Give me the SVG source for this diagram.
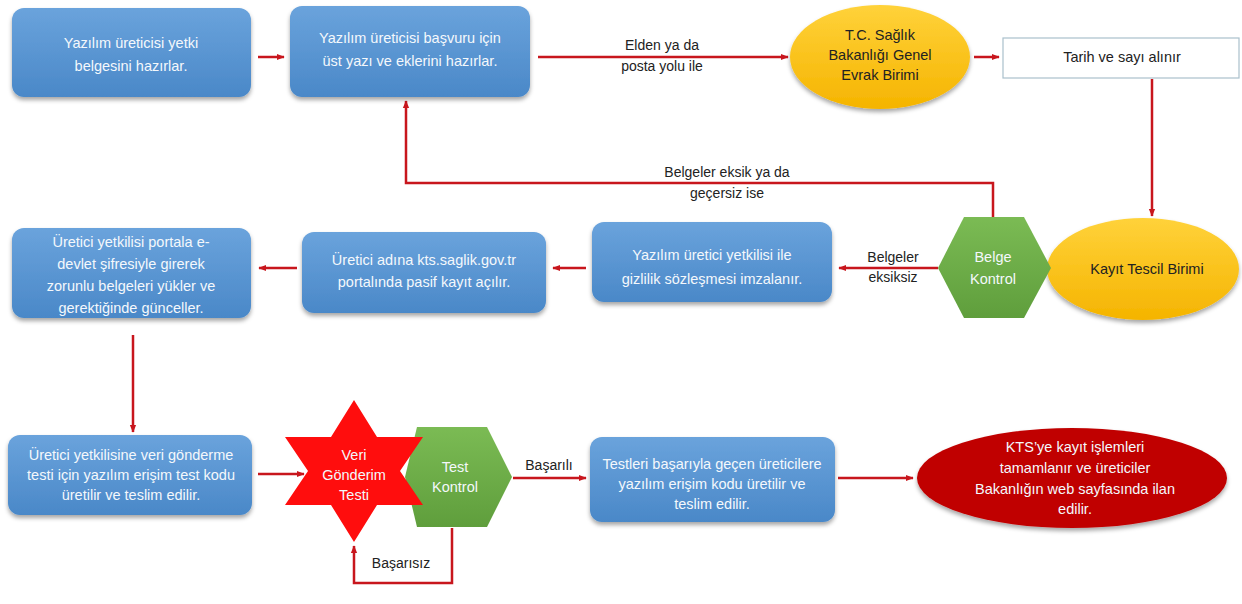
<svg xmlns="http://www.w3.org/2000/svg" width="1242" height="604" viewBox="0 0 1242 604">
<style>
.box{fill:url(#gb);filter:url(#sh)}
.t{font-family:"Liberation Sans",Arial,sans-serif;font-size:14.5px;text-anchor:middle}
.w{fill:#f4f8fc}
.d{fill:#222}
.lbl{font-family:"Liberation Sans",Arial,sans-serif;font-size:14px;text-anchor:middle;fill:#222}
.c{fill:none;stroke:#c8161d;stroke-width:2.5}
</style>
<defs>
<linearGradient id="gb" x1="0" y1="0" x2="0" y2="1"><stop offset="0" stop-color="#6aa3dc"/><stop offset="1" stop-color="#4a88c8"/></linearGradient>
<linearGradient id="gy" x1="0" y1="0" x2="0" y2="1"><stop offset="0" stop-color="#ffd23a"/><stop offset="1" stop-color="#f5b400"/></linearGradient>
<linearGradient id="gg" x1="0" y1="0" x2="0" y2="1"><stop offset="0" stop-color="#7bbb54"/><stop offset="1" stop-color="#5f9e3c"/></linearGradient>
<filter id="sh" x="-10%" y="-10%" width="120%" height="130%"><feDropShadow dx="0" dy="3" stdDeviation="2" flood-color="#000" flood-opacity="0.35"/></filter>
<marker id="ar" viewBox="0 0 10 10" refX="9" refY="5" markerWidth="3.2" markerHeight="3.2" orient="auto"><path d="M0,1 L10,5 L0,9 z" fill="#c8161d"/></marker>
</defs>

<g id="connectors">
<line class="c" x1="258" y1="57" x2="284" y2="57" marker-end="url(#ar)"/>
<line class="c" x1="538" y1="57" x2="788" y2="57" marker-end="url(#ar)"/>
<text class="lbl" x="662" y="50">Elden ya da</text>
<text class="lbl" x="662" y="71">posta yolu ile</text>
<line class="c" x1="974" y1="57" x2="999" y2="57" marker-end="url(#ar)"/>
<line class="c" x1="1152" y1="79" x2="1152" y2="216" marker-end="url(#ar)"/>
<polyline class="c" points="993,217 993,183 406,183 406,101" marker-end="url(#ar)"/>
<text class="lbl" x="727" y="177">Belgeler eksik ya da</text>
<text class="lbl" x="727" y="198">geçersiz ise</text>
<line class="c" x1="938" y1="268" x2="839" y2="268" marker-end="url(#ar)"/>
<text class="lbl" x="893" y="262">Belgeler</text>
<text class="lbl" x="893" y="282">eksiksiz</text>
<line class="c" x1="586" y1="268" x2="553" y2="268" marker-end="url(#ar)"/>
<line class="c" x1="297" y1="268" x2="259" y2="268" marker-end="url(#ar)"/>
<line class="c" x1="133" y1="335" x2="133" y2="432" marker-end="url(#ar)"/>
<line class="c" x1="258" y1="474" x2="304" y2="474" marker-end="url(#ar)"/>
<line class="c" x1="513" y1="478" x2="586" y2="478" marker-end="url(#ar)"/>
<text class="lbl" x="549" y="470">Başarılı</text>
<polyline class="c" points="452,528 452,583 354,583 354,546" marker-end="url(#ar)"/>
<text class="lbl" x="401" y="568">Başarısız</text>
<line class="c" x1="838" y1="478" x2="913" y2="478" marker-end="url(#ar)"/>
</g>

<g id="n1"><rect class="box" x="12" y="8" width="239" height="89" rx="12"/>
<text class="t w" x="131" y="48">Yazılım üreticisi yetki</text><text class="t w" x="131" y="71">belgesini hazırlar.</text></g>

<g id="n2"><rect class="box" x="290" y="6" width="240" height="91" rx="12"/>
<text class="t w" x="410" y="43">Yazılım üreticisi başvuru için</text><text class="t w" x="410" y="66">üst yazı ve eklerini hazırlar.</text></g>

<g id="n3"><ellipse cx="880" cy="57" rx="90" ry="52" fill="url(#gy)" filter="url(#sh)"/>
<text class="t d" x="880" y="40">T.C. Sağlık</text><text class="t d" x="880" y="60">Bakanlığı Genel</text><text class="t d" x="880" y="80">Evrak Birimi</text></g>

<g id="n4"><rect x="1003" y="38" width="236" height="40" fill="#fff" stroke="#aac0cc" stroke-width="1.2"/>
<text class="t d" x="1122" y="62">Tarih ve sayı alınır</text></g>

<g id="n5"><ellipse cx="1143" cy="269" rx="96" ry="51" fill="url(#gy)" filter="url(#sh)"/>
<text class="t d" x="1147" y="274">Kayıt Tescil Birimi</text></g>

<g id="n6"><polygon points="964,217 1024,217 1051,268 1024,318 964,318 938,268" fill="url(#gg)"/>
<text class="t w" x="993" y="262">Belge</text><text class="t w" x="993" y="284">Kontrol</text></g>

<g id="n7"><rect class="box" x="592" y="222" width="240" height="80" rx="12"/>
<text class="t w" x="712" y="260">Yazılım üretici yetkilisi ile</text><text class="t w" x="712" y="284">gizlilik sözleşmesi imzalanır.</text></g>

<g id="n8"><rect class="box" x="302" y="232" width="244" height="81" rx="12"/>
<text class="t w" x="424" y="265">Üretici adına kts.saglik.gov.tr</text><text class="t w" x="424" y="287">portalında pasif kayıt açılır.</text></g>

<g id="n9"><rect class="box" x="12" y="228" width="239" height="90" rx="12"/>
<text class="t w" x="131" y="247">Üretici yetkilisi portala e-</text><text class="t w" x="131" y="269">devlet şifresiyle girerek</text><text class="t w" x="131" y="291">zorunlu belgeleri yükler ve</text><text class="t w" x="131" y="313">gerektiğinde günceller.</text></g>

<g id="n10"><rect class="box" x="8" y="435" width="244" height="80" rx="12"/>
<text class="t w" x="131" y="460">Üretici yetkilisine veri gönderme</text><text class="t w" x="131" y="480">testi için yazılım erişim test kodu</text><text class="t w" x="131" y="500">üretilir ve teslim edilir.</text></g>

<g id="n12"><polygon points="417,427 487,427 512,477 487,527 417,527 405,477" fill="url(#gg)"/>
<text class="t w" x="455" y="472">Test</text><text class="t w" x="455" y="492">Kontrol</text></g>

<g id="n11"><polygon points="354,400 377,437 423,437 400,471 423,505 377,505 354,542 331,505 285,505 308,471 285,437 331,437" fill="#ff0d0d"/>
<text class="t w" x="354" y="460">Veri</text><text class="t w" x="354" y="480">Gönderim</text><text class="t w" x="354" y="500">Testi</text></g>

<g id="n13"><rect class="box" x="590" y="437" width="245" height="85" rx="12"/>
<text class="t w" x="712" y="469">Testleri başarıyla geçen üreticilere</text><text class="t w" x="712" y="489">yazılım erişim kodu  üretilir ve</text><text class="t w" x="712" y="509">teslim edilir.</text></g>

<g id="n14"><ellipse cx="1072" cy="478" rx="155" ry="50" fill="#c00000" filter="url(#sh)"/>
<text class="t w" x="1075" y="452">KTS’ye kayıt işlemleri</text><text class="t w" x="1075" y="473">tamamlanır ve üreticiler</text><text class="t w" x="1075" y="494">Bakanlığın web sayfasında ilan</text><text class="t w" x="1075" y="514">edilir.</text></g>
</svg>
